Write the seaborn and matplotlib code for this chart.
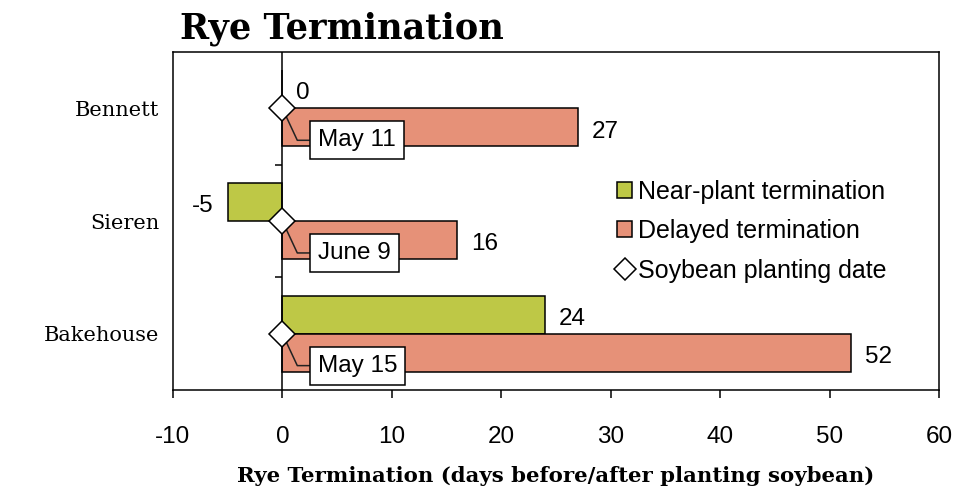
import matplotlib
matplotlib.use("Agg")
import matplotlib.pyplot as plt
import seaborn as sns
import numpy as np
import pandas as pd
from matplotlib.patches import Patch
from matplotlib.lines import Line2D

# data
sites = ["Bennett", "Sieren", "Bakehouse"]
near_plant = [0, -5, 24]
delayed = [27, 16, 52]
planting_day = [0, 0, 0]
planting_dates = ["May 11", "June 9", "May 15"]
series = ["Near-plant termination", "Delayed termination"]

green = "#BEC846"
salmon = "#E69178"

df = pd.DataFrame({
    "site": sites * 2,
    "days": near_plant + delayed,
    "type": [series[0]] * len(sites) + [series[1]] * len(sites),
})

sns.set_style("white")
plt.rcParams["font.family"] = ["Liberation Sans", "DejaVu Sans"]
plt.rcParams["axes.unicode_minus"] = False
plt.rcParams["text.color"] = "black"
plt.rcParams["axes.labelcolor"] = "black"
plt.rcParams["xtick.color"] = "black"
plt.rcParams["ytick.color"] = "black"

fig = plt.figure(figsize=(9.69, 4.93), dpi=100)
ax = fig.add_axes([0.1785, 0.2089, 0.7905, 0.6856])

sns.barplot(data=df, x="days", y="site", hue="type", order=sites, hue_order=series,
            palette=[green, salmon], orient="h", width=0.675, edgecolor="black",
            linewidth=1.1, saturation=1, legend=False, ax=ax)

for cont in ax.containers:
    for t in ax.bar_label(cont, fmt="%g", padding=10, fontsize=17.5, color="black"):
        t.xyann = (t.xyann[0], t.xyann[1] - 3)

ax.set_xlim(-10, 60)
ax.set_xticks(np.arange(-10, 61, 10))
ax.set_ylim(len(sites) - 0.5, -0.5)

# vertical axis crossing at zero, with category separators
ypos = np.arange(len(sites))
ax.axvline(0, color="black", lw=1.1, zorder=3)
ax.plot(np.zeros(len(sites) - 1), ypos[:-1] + 0.5, ls="", marker=0, ms=5,
        mew=1.1, color="black", zorder=3, clip_on=False)

# soybean planting date markers with date callouts
ax.plot(planting_day, ypos, ls="", marker="D", ms=13, mfc="white", mec="black",
        mew=1.1, zorder=6)
for d, y, lab in zip(planting_day, ypos, planting_dates):
    ax.annotate(lab, xy=(d, y), xytext=(25.5, -23), textcoords="offset points",
                ha="left", va="center", fontsize=17.5, zorder=5,
                bbox=dict(boxstyle="square,pad=0.33", fc="white", ec="black", lw=1.1),
                arrowprops=dict(arrowstyle="-", color="#222222", lw=1.1,
                                connectionstyle="angle,angleA=0,angleB=-65",
                                shrinkA=0, shrinkB=0))

for s in ax.spines.values():
    s.set_visible(True)
    s.set_color("black")
    s.set_linewidth(1.1)

ax.tick_params(axis="x", bottom=True, direction="out", length=6, width=1.1,
               labelsize=17.5, pad=20, colors="black")
ax.tick_params(axis="y", left=False, length=0, pad=10, colors="black")
for t in ax.get_yticklabels():
    t.set_family("DejaVu Serif")
    t.set_fontsize(15)
ax.set_ylabel("")
ax.set_xlabel("Rye Termination (days before/after planting soybean)",
              family="DejaVu Serif", fontweight="bold", fontsize=15.3, labelpad=13)

handles = [
    Patch(facecolor=green, edgecolor="black", lw=1.1),
    Patch(facecolor=salmon, edgecolor="black", lw=1.1),
    Line2D([], [], ls="", marker="D", ms=11, mfc="white", mec="black", mew=1.1),
]
ax.legend(handles, series + ["Soybean planting date"], loc="center left",
          bbox_to_anchor=(0.58, 0.47), frameon=False, fontsize=18,
          handlelength=0.6, handleheight=0.6, handletextpad=0.25,
          labelspacing=0.62, borderpad=0, borderaxespad=0)

fig.text(180 / 969, 1 - 38 / 493, "Rye Termination", family="DejaVu Serif",
         fontweight="bold", fontsize=25.3, va="baseline", ha="left", color="black")

fig.savefig("out.png", dpi=100)
